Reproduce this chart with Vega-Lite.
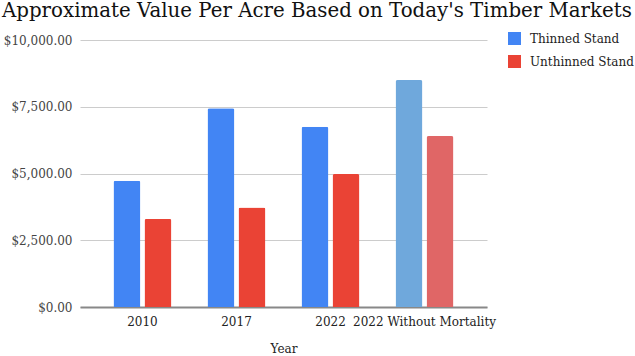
{
  "$schema": "https://vega.github.io/schema/vega-lite/v6.json",
  "autosize": "none",
  "width": 407,
  "height": 267,
  "padding": {"left": 80, "top": 40, "right": 148, "bottom": 49},
  "background": "white",
  "title": {
    "text": "Approximate Value Per Acre Based on Today's Timber Markets",
    "anchor": "start",
    "frame": "group",
    "dx": -78,
    "offset": 11,
    "font": "DejaVu Serif",
    "fontSize": 19.8,
    "fontWeight": "normal",
    "color": "#111111"
  },
  "data": {
    "values": [
      {"Year": "2010", "Stand": "Thinned Stand", "Value": 4730},
      {"Year": "2010", "Stand": "Unthinned Stand", "Value": 3300},
      {"Year": "2017", "Stand": "Thinned Stand", "Value": 7440},
      {"Year": "2017", "Stand": "Unthinned Stand", "Value": 3730},
      {"Year": "2022", "Stand": "Thinned Stand", "Value": 6750},
      {"Year": "2022", "Stand": "Unthinned Stand", "Value": 4980},
      {"Year": "2022 Without Mortality", "Stand": "Thinned Stand", "Value": 8500},
      {"Year": "2022 Without Mortality", "Stand": "Unthinned Stand", "Value": 6400}
    ]
  },
  "mark": {"type": "bar", "cornerRadiusTopLeft": 2, "cornerRadiusTopRight": 2},
  "encoding": {
    "x": {
      "field": "Year",
      "type": "nominal",
      "sort": null,
      "scale": {"paddingInner": 0.383, "paddingOuter": 0.356},
      "axis": {
        "labelAngle": 0,
        "labelFont": "DejaVu Serif",
        "labelFontSize": 12,
        "labelColor": "#222222",
        "labelPadding": 9,
        "ticks": false,
        "domainColor": "#888888",
        "domainWidth": 2,
        "title": "Year",
        "titleFont": "DejaVu Serif",
        "titleFontSize": 12,
        "titleFontWeight": "normal",
        "titleColor": "#222222",
        "titlePadding": 16
      }
    },
    "xOffset": {"field": "Stand", "type": "nominal", "scale": {"paddingInner": 0.13}},
    "y": {
      "field": "Value",
      "type": "quantitative",
      "scale": {"domain": [0, 10000]},
      "axis": {
        "values": [0, 2500, 5000, 7500, 10000],
        "format": "$,.2f",
        "title": null,
        "domain": false,
        "ticks": false,
        "labelPadding": 8,
        "labelFont": "DejaVu Serif",
        "labelFontSize": 12,
        "labelColor": "#444444",
        "gridColor": "#cccccc"
      }
    },
    "color": {
      "condition": [
        {"test": "datum.Year === '2022 Without Mortality' && datum.Stand === 'Thinned Stand'", "value": "#6FA8DC"},
        {"test": "datum.Year === '2022 Without Mortality' && datum.Stand === 'Unthinned Stand'", "value": "#E06666"}
      ],
      "field": "Stand",
      "type": "nominal",
      "scale": {"domain": ["Thinned Stand", "Unthinned Stand"], "range": ["#4285F4", "#EA4335"]},
      "legend": {
        "title": null,
        "orient": "none",
        "legendX": 428,
        "legendY": -8,
        "symbolType": "square",
        "symbolSize": 169,
        "symbolStrokeWidth": 0,
        "rowPadding": 10,
        "labelOffset": 9,
        "labelFont": "DejaVu Serif",
        "labelFontSize": 12,
        "labelColor": "#222222"
      }
    }
  },
  "config": {"view": {"stroke": null}}
}
